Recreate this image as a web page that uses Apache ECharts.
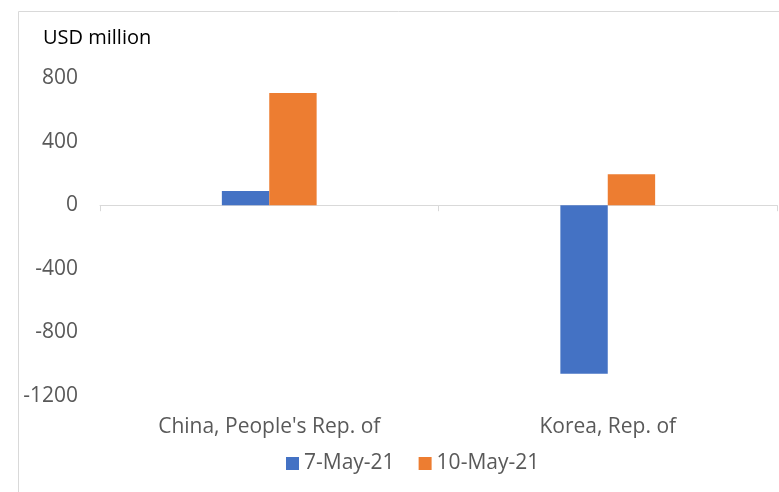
<!DOCTYPE html>
<html>
<head>
<meta charset="utf-8">
<script src="https://cdn.jsdelivr.net/npm/echarts@6/dist/echarts.min.js"></script>
<style>html,body{margin:0;padding:0;background:#fff;}#c{width:779px;height:492px;}</style>
</head>
<body>
<div id="c"></div>
<script>
var categories = ["China, People's Rep. of", "Korea, Rep. of"];
var seriesNames = ["7-May-21", "10-May-21"];
var may7 = [90, -1060];
var may10 = [705, 195];
var yTicks = [-1200, -800, -400, 0, 400, 800];

var chart = echarts.init(document.getElementById('c'));
var font = "'Open Sans', 'Liberation Sans', sans-serif";
var fs = 21;
chart.setOption({
  animation: false,
  textStyle: {fontFamily: font},
  graphic: [
    {type: 'line', shape: {x1: 18.5, y1: 11.5, x2: 779, y2: 11.5}, style: {stroke: '#d9d9d9', lineWidth: 1}},
    {type: 'line', shape: {x1: 18.5, y1: 11.5, x2: 18.5, y2: 492}, style: {stroke: '#d9d9d9', lineWidth: 1}},
    {type: 'text', left: 43, top: 28, style: {text: 'USD million', fill: '#000', font: '20px ' + font}}
  ],
  legend: {
    data: seriesNames,
    top: 448,
    left: 281,
    itemWidth: 13,
    itemHeight: 13,
    itemGap: 24,
    icon: 'rect',
    textStyle: {fontSize: fs, color: '#595959', fontFamily: font, padding: [0, 0, 0, 0]}
  },
  grid: {left: 100, right: 2, top: 78, bottom: 96, containLabel: false},
  xAxis: [{
    type: 'category',
    data: categories,
    axisLine: {onZero: true, lineStyle: {color: '#d9d9d9', width: 1}},
    axisTick: {show: true, inside: false, length: 6, lineStyle: {color: '#d9d9d9'}},
    axisLabel: {show: false}
  }, {
    type: 'category',
    data: categories,
    position: 'bottom',
    axisLine: {show: false, onZero: false},
    axisTick: {show: false},
    axisLabel: {show: true, fontSize: fs, color: '#595959', margin: 21, fontFamily: font}
  }],
  yAxis: {
    type: 'value',
    min: yTicks[0],
    max: yTicks[yTicks.length - 1],
    interval: 400,
    splitLine: {show: false},
    axisLine: {show: false},
    axisTick: {show: false},
    axisLabel: {fontSize: fs, color: '#595959', margin: 22, fontFamily: font,
      formatter: function (v) { return String(v); }}
  },
  series: [
    {
      name: seriesNames[0], type: 'bar', data: may7, barGap: '0%', barCategoryGap: '72%',
      itemStyle: {color: '#4472c4'}
    },
    {
      name: seriesNames[1], type: 'bar', data: may10, barGap: '0%', barCategoryGap: '72%',
      itemStyle: {color: '#ed7d31'}
    }
  ]
});
</script>
</body>
</html>
